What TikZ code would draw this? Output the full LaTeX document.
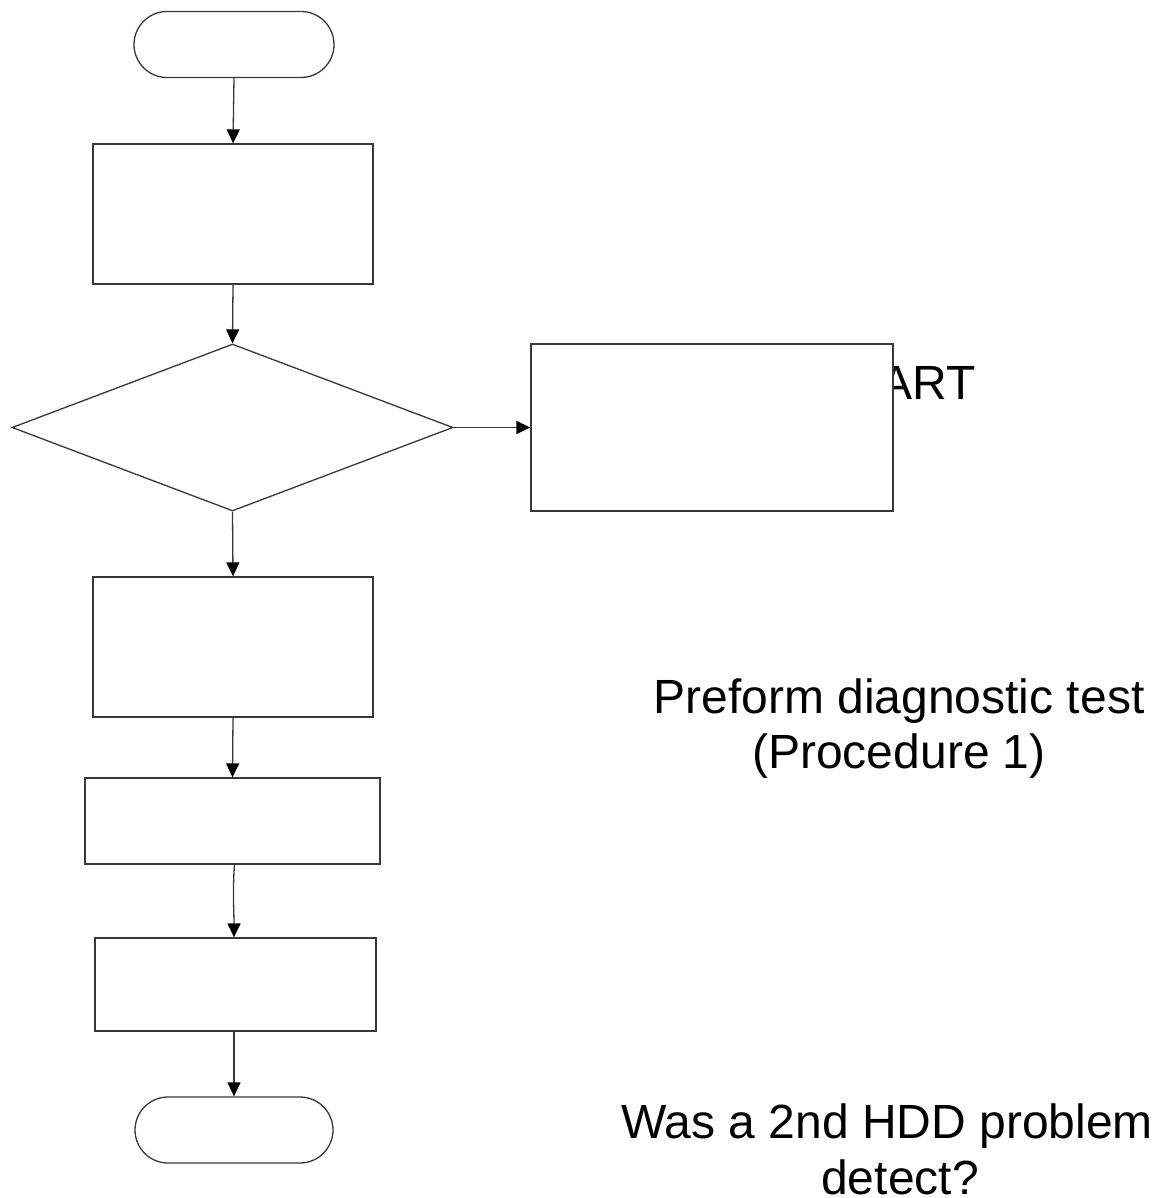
\documentclass[tikz,border=0pt]{standalone}
\usepackage{fontspec}
\setmainfont{Liberation Sans}
\usetikzlibrary{shapes.geometric,shapes.misc,arrows.meta}
\begin{document}
\begin{tikzpicture}[x=1pt,y=1pt,
  ln/.style={draw=black!78,line width=1.3pt},
  stepbox/.style={ln,fill=white,rectangle,inner sep=0pt},
  term/.style={ln,fill=white,rounded rectangle,inner sep=0pt,minimum width=200pt,minimum height=66pt},
  decbox/.style={ln,fill=white,diamond,inner sep=0pt},
  arr/.style={ln,-{Triangle[length=14pt,width=13pt,fill=black,color=black]}},
  lbl/.style={anchor=base,inner sep=0pt,font=\fontsize{48}{55}\selectfont}]
\useasboundingbox (0,0) rectangle (1156,-1198);
% texts (drawn first, boxes cover them where they overlap)
\node[lbl] (tstart) at (899,-399) {START};
\node[lbl] (tproc1) at (899,-713) {Preform diagnostic test};
\node[lbl] (tproc2) at (899,-768) {(Procedure 1)};
\node[lbl] (tq1) at (887,-1138) {Was a 2nd HDD problem};
\node[lbl] (tq2) at (900,-1194) {detect?};
% shapes
\node[term] (start) at (234,-44.5) {};
\node[stepbox,minimum width=280pt,minimum height=140pt] (box1) at (233,-214) {};
\node[decbox,minimum width=441pt,minimum height=167pt] (dec) at (232.5,-427.5) {};
\node[stepbox,minimum width=362pt,minimum height=167pt] (boxr) at (712,-427.5) {};
\node[stepbox,minimum width=280pt,minimum height=140pt] (box2) at (233,-647) {};
\node[stepbox,minimum width=295pt,minimum height=86pt] (box3) at (232.5,-821) {};
\node[stepbox,minimum width=281pt,minimum height=93pt] (box4) at (235.5,-984.5) {};
\node[term,minimum width=198pt] (end) at (234,-1130) {};
% connectors
\draw[arr] (start.south) -- (box1.north);
\draw[arr] (box1.south) -- (dec.north);
\draw[arr] (dec.east) -- (boxr.west);
\draw[arr] (dec.south) -- (box2.north);
\draw[arr] (box2.south) -- (box3.north);
\draw[arr] ([xshift=2pt]box3.south) .. controls +(-2,-25) and +(0,25) .. ([xshift=-1.5pt]box4.north);
\draw[arr] ([xshift=-1.5pt]box4.south) -- ([xshift=-1.5pt]box4.south |- end.north);
\end{tikzpicture}
\end{document}
